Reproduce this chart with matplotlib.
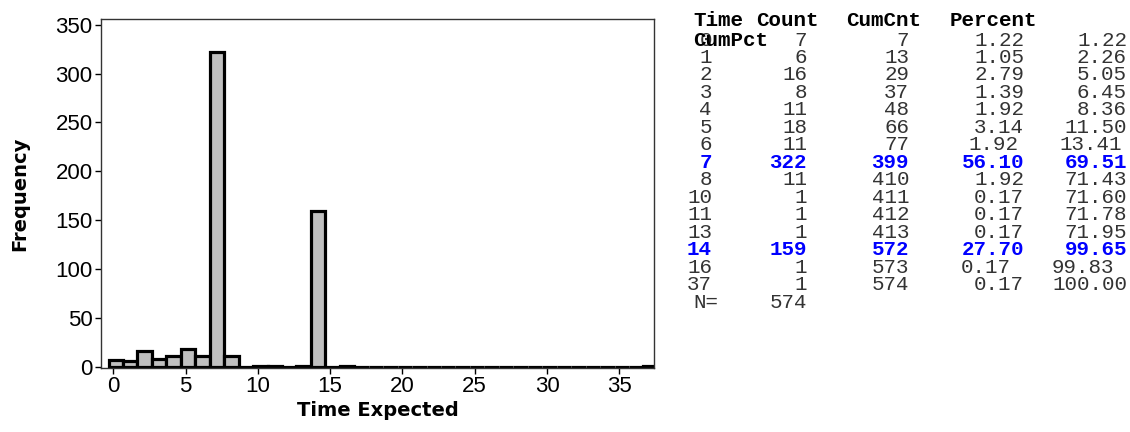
import matplotlib.pyplot as plt
import numpy as np

# frequency table
times = [0, 1, 2, 3, 4, 5, 6, 7, 8, 10, 11, 13, 14, 16, 37]
counts = [7, 6, 16, 8, 11, 18, 11, 322, 11, 1, 1, 1, 159, 1, 1]
cumcnt = [7, 13, 29, 37, 48, 66, 77, 399, 410, 411, 412, 413, 572, 573, 574]
percent = ["1.22", "1.05", "2.79", "1.39", "1.92", "3.14", "1.92", "56.10",
           "1.92", "0.17", "0.17", "0.17", "27.70", "0.17", "0.17"]
cumpct = ["1.22", "2.26", "5.05", "6.45", "8.36", "11.50", "13.41", "69.51",
          "71.43", "71.60", "71.78", "71.95", "99.65", "99.83", "100.00"]
highlight = [7, 14]
n_total = 574

W, H = 1130, 432
fig = plt.figure(figsize=(W / 100, H / 100), dpi=100)

def fx(px):
    return px / W

def fy(py):
    return 1 - py / H

# histogram: one bar per integer time, zero bins still drawn
bins = np.arange(0, 38)
freq = np.zeros(len(bins))
for t, c in zip(times, counts):
    freq[t] = c

ax = fig.add_axes([fx(101), fy(368), fx(654) - fx(101), fy(19) - fy(368)])
ax.bar(bins + 0.17, freq, width=1.0, color="#c0c0c0", edgecolor="black",
       linewidth=2.3, zorder=2)
ax.set_xlim(-0.85, 37.4)
ax.set_ylim(-1.5, 356)
ax.set_xticks(range(0, 36, 5))
ax.set_yticks(range(0, 351, 50))
ax.tick_params(direction="out", length=4, width=1, labelsize=16, pad=2)
for lab in ax.get_xticklabels() + ax.get_yticklabels():
    lab.set_family("Liberation Sans")
for s in ax.spines.values():
    s.set_linewidth(1.0)
    s.set_color("#333333")
ax.set_xlabel("Time Expected", fontsize=14, fontweight="bold", labelpad=3)
ax.set_ylabel("Frequency", fontsize=14, fontweight="bold", labelpad=19)

# text table on the right
mono = "Liberation Mono"
fs = 15
hdr_y = 20
row0_y = 40
dy = 17.47
ink = "#333333"

fig.text(fx(693), fy(hdr_y), "Time", family=mono, fontsize=fs, fontweight="bold", va="center")
fig.text(fx(756), fy(hdr_y), "Count", family=mono, fontsize=fs, fontweight="bold", va="center")
fig.text(fx(846), fy(hdr_y), "CumCnt", family=mono, fontsize=fs, fontweight="bold", va="center")
fig.text(fx(950), fy(hdr_y), "Percent", family=mono, fontsize=fs, fontweight="bold", va="center")

col_x = [712, 807, 909, 1024, 1127]
for i, t in enumerate(times):
    y = fy(row0_y + i * dy)
    hot = t in highlight
    kw = dict(family=mono, fontsize=fs, va="center", ha="right",
              color="#0000ff" if hot else ink,
              fontweight="bold" if hot else "normal")
    xs = list(col_x)
    if t == 6:
        xs[3], xs[4] = 1018, 1122
    if t == 16:
        xs[3], xs[4] = 1011, 1114
    vals = [str(t), str(counts[i]), str(cumcnt[i]), percent[i], cumpct[i]]
    for x, v in zip(xs, vals):
        fig.text(fx(x), y, v, **kw)

# "CumPct" header wrapped onto the first data row
fig.text(fx(693), fy(row0_y), "CumPct", family=mono, fontsize=fs,
         fontweight="bold", va="center")
ny = fy(row0_y + len(times) * dy)
fig.text(fx(693), ny, "N=", family=mono, fontsize=fs, va="center", color=ink)
fig.text(fx(807), ny, str(n_total), family=mono, fontsize=fs, va="center",
         ha="right", color=ink)

fig.savefig("out.png", dpi=100)
